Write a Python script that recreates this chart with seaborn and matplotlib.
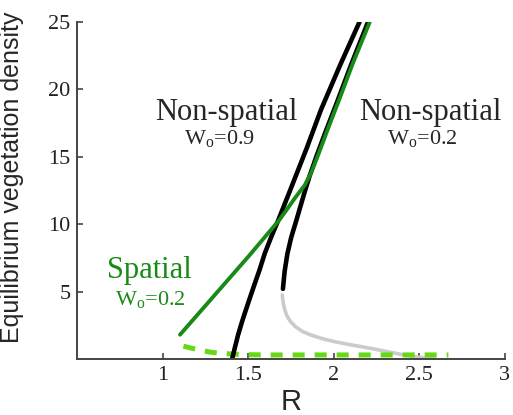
import seaborn as sns
import pandas as pd
import matplotlib
matplotlib.use("Agg")
from matplotlib import pyplot as plt

# non-spatial model, W0 = 0.9 (stable branch)
r_ns09 = [1.405, 1.42, 1.44, 1.466, 1.50, 1.531, 1.565, 1.596, 1.635, 1.675, 1.75, 1.84, 1.925, 2.04, 2.15]
d_ns09 = [0.0, 0.8, 1.8, 2.9, 4.2, 5.36, 6.6, 7.84, 9.1, 10.3, 12.7, 15.6, 18.5, 21.9, 25.0]

# non-spatial model, W0 = 0.2 (stable upper branch)
r_ns02_up = [1.702, 1.712, 1.728, 1.75, 1.781, 1.82, 1.856, 1.90, 1.95, 2.02, 2.10, 2.20]
d_ns02_up = [5.2, 6.5, 7.8, 9.0, 10.3, 12.0, 13.5, 15.1, 16.8, 19.1, 21.8, 25.0]

# non-spatial model, W0 = 0.2 (unstable lower branch)
r_ns02_lo = [1.698, 1.703, 1.712, 1.725, 1.745, 1.775, 1.815, 1.865, 1.94, 2.01, 2.10, 2.21, 2.31, 2.41, 2.50, 2.59]
d_ns02_lo = [4.75, 4.2, 3.7, 3.2, 2.8, 2.4, 2.05, 1.78, 1.48, 1.27, 1.05, 0.8, 0.55, 0.3, 0.12, 0.0]

# spatial model, W0 = 0.2
r_sp = [1.10, 1.30, 1.50, 1.68, 1.72, 1.77, 1.83, 1.87, 1.91, 1.96, 2.03, 2.11, 2.21]
d_sp = [1.8, 4.7, 7.6, 10.3, 11.0, 11.9, 12.9, 13.9, 15.2, 16.9, 19.2, 21.9, 25.0]

r_sp_lo = [1.12, 1.20, 1.28, 1.36, 1.45, 1.60, 1.80, 2.00, 2.20, 2.40, 2.67]
d_sp_lo = [0.95, 0.7, 0.5, 0.4, 0.33, 0.3, 0.3, 0.3, 0.3, 0.3, 0.3]

x_ticks = [1, 1.5, 2, 2.5, 3]
x_tick_labels = ["1", "1.5", "2", "2.5", "3"]
y_ticks = [5, 10, 15, 20, 25]

dark_green = "#178a17"
lime = "#66d914"

sns.set_style("ticks")
plt.rcParams["font.family"] = ["Liberation Serif", "DejaVu Serif"]
plt.rcParams["mathtext.fontset"] = "custom"
plt.rcParams["mathtext.rm"] = "Liberation Serif"

fig = plt.figure(figsize=(5.13, 4.15), dpi=100)
ax = fig.add_axes([0.151, 0.135, 0.833, 0.812])

def draw(r, d, **kw):
    df = pd.DataFrame({"R": r, "D": d})
    sns.lineplot(data=df, x="R", y="D", ax=ax, sort=False, estimator=None, **kw)

draw(r_ns02_lo, d_ns02_lo, color="#cbcbcb", linewidth=2.6)
draw(r_sp_lo, d_sp_lo, color=lime, linewidth=3.6, dashes=False)
ax.lines[-1].set_dashes((2.4, 2.0))
draw(r_ns09, d_ns09, color="black", linewidth=3.3)
draw(r_ns02_up, d_ns02_up, color="black", linewidth=3.3)
draw(r_sp, d_sp, color=dark_green, linewidth=2.8)

ax.set_xlim(0.5, 3)
ax.set_ylim(0, 25)
ax.set_xticks(x_ticks)
ax.set_xticklabels(x_tick_labels)
ax.set_yticks(y_ticks)
ax.tick_params(direction="in", length=4, width=1.2, colors="#444444", labelsize=16,
               labelcolor="#222222", pad=5)
sns.despine(ax=ax)
for s in ["left", "bottom"]:
    ax.spines[s].set_color("#444444")
    ax.spines[s].set_linewidth(1.4)

ax.set_xlabel("R", family="Liberation Sans", fontsize=21, labelpad=2)
ax.set_ylabel("Equilibrium vegetation density", family="Liberation Sans", fontsize=18)
ax.yaxis.set_label_coords(-0.125, 0.54)

ax.text(1.373, 17.7, "Non-spatial", fontsize=22, ha="center", va="baseline")
ax.text(1.331, 15.9, r"W$_\mathregular{o}$=0.9", fontsize=16, ha="center", va="baseline")
ax.text(2.562, 17.7, "Non-spatial", fontsize=22, ha="center", va="baseline")
ax.text(2.515, 15.9, r"W$_\mathregular{o}$=0.2", fontsize=16, ha="center", va="baseline")
ax.text(0.923, 6.0, "Spatial", fontsize=22, ha="center", va="baseline", color=dark_green)
ax.text(0.929, 4.0, r"W$_\mathregular{o}$=0.2", fontsize=16, ha="center", va="baseline", color=dark_green)

fig.savefig("out.png", dpi=100)
